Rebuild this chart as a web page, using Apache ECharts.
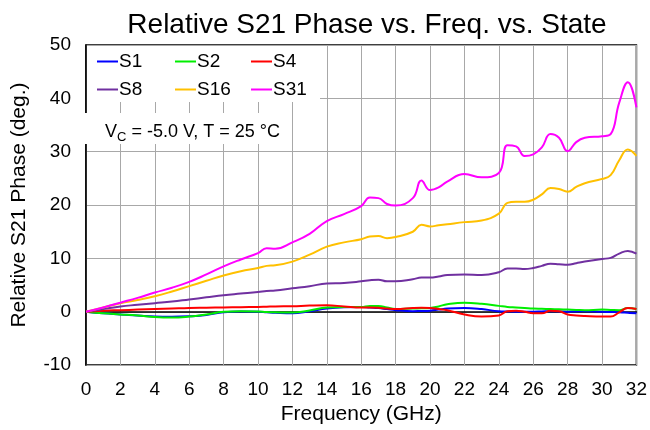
<!DOCTYPE html>
<html>
<head>
<meta charset="utf-8">
<script src="https://cdn.jsdelivr.net/npm/echarts@6/dist/echarts.min.js"></script>
<style>
  html, body { margin: 0; padding: 0; background: #fff; }
  #chart { width: 650px; height: 430px; }
</style>
</head>
<body>
<div id="chart"></div>
<script>
// frequency points (GHz)
const freq = [0, 1, 2, 3, 4, 5, 6, 7, 8, 9, 10, 10.5, 11, 12, 13, 14, 15, 16, 16.5, 17, 17.5, 18, 19, 19.5, 20, 20.5, 21, 22, 23, 24, 24.5, 25, 25.5, 26, 26.5, 27, 27.5, 28, 28.5, 29, 30, 30.5, 31, 31.5, 32];

// relative phase per state (deg.)
const s1 = [0, -0.3, -0.5, -0.7, -0.9, -0.95, -0.85, -0.6, -0.1, 0.05, 0, -0.1, -0.2, -0.3, 0.1, 0.6, 0.85, 0.9, 0.8, 0.7, 0.5, 0.3, 0.1, 0.15, 0.2, 0.4, 0.6, 0.7, 0.5, 0.1, 0.05, 0, 0, 0, 0.05, 0.1, 0.05, 0, 0.05, 0.1, 0, -0.05, -0.1, -0.2, -0.3];
const s2 = [0, -0.3, -0.5, -0.7, -1.0, -1.1, -0.9, -0.5, 0, 0.1, 0.05, -0.05, -0.1, -0.15, 0.25, 0.8, 0.9, 0.9, 1.1, 1.1, 0.8, 0.5, 0.6, 0.65, 0.7, 1.0, 1.4, 1.7, 1.5, 1.1, 0.9, 0.8, 0.7, 0.6, 0.55, 0.5, 0.45, 0.4, 0.35, 0.3, 0.4, 0.35, 0.3, 0.7, 0.5];
const s4 = [0, 0.2, 0.3, 0.4, 0.5, 0.6, 0.7, 0.75, 0.8, 0.85, 0.9, 0.95, 1.0, 1.05, 1.15, 1.2, 1.0, 0.8, 0.8, 0.75, 0.6, 0.5, 0.7, 0.75, 0.7, 0.5, 0.3, -0.5, -0.9, -0.7, 0.1, 0.2, 0, -0.3, -0.3, 0.2, 0.1, -0.5, -0.7, -0.8, -0.9, -0.9, -0.1, 0.7, 0.5];
const s8 = [0, 0.5, 1.0, 1.3, 1.6, 1.9, 2.3, 2.7, 3.1, 3.4, 3.7, 3.9, 4.0, 4.4, 4.8, 5.3, 5.4, 5.7, 5.9, 6.0, 5.7, 5.7, 6.1, 6.4, 6.4, 6.6, 6.9, 7.0, 6.9, 7.4, 8.1, 8.1, 8.0, 8.2, 8.6, 9.0, 8.9, 8.8, 9.1, 9.4, 9.9, 10.1, 10.9, 11.4, 10.9];
const s16 = [0, 0.8, 1.6, 2.2, 2.9, 3.8, 4.8, 5.8, 6.8, 7.6, 8.2, 8.6, 8.7, 9.4, 10.7, 12.2, 13.0, 13.6, 14.1, 14.2, 13.8, 14.0, 15.0, 16.3, 16.0, 16.2, 16.4, 16.8, 17.1, 18.4, 20.4, 20.6, 20.6, 21.0, 22.0, 23.2, 23.0, 22.5, 23.4, 24.1, 24.9, 25.6, 28.4, 30.4, 29.2];
const s31 = [0, 0.8, 1.7, 2.6, 3.6, 4.5, 5.6, 7.0, 8.5, 9.8, 11.0, 11.9, 11.8, 13.0, 14.6, 17.0, 18.3, 19.8, 21.4, 21.3, 20.2, 19.9, 21.3, 24.6, 22.8, 23.3, 24.4, 25.8, 25.2, 26.0, 31.2, 31.0, 29.2, 29.5, 30.8, 33.3, 32.6, 30.1, 31.8, 32.6, 32.9, 33.3, 39.2, 43.0, 38.3];

const names = ["S1", "S2", "S4", "S8", "S16", "S31"];
const values = [s1, s2, s4, s8, s16, s31];
const colors = ["#0000ff", "#00ee00", "#ff0000", "#7030a0", "#ffc000", "#ff00ff"];

const font = "'Liberation Sans', Arial, sans-serif";

const chart = echarts.init(document.getElementById("chart"));

// one legend per item so the columns line up
const legendCols = [92, 170, 246];
const legendRows = [47, 75];
const legends = names.map((n, i) => ({
  data: [n],
  left: legendCols[i % 3],
  top: legendRows[Math.floor(i / 3)],
  icon: "rect",
  itemWidth: 21,
  itemHeight: 2,
  itemGap: 0,
  z: 10,
  selectedMode: false,
  textStyle: { fontFamily: font, fontSize: 19, color: "#000", padding: [0, 0, 0, -4] },
}));

const options = {
  animation: false,
  title: {
    text: "Relative S21 Phase vs. Freq. vs. State",
    left: 362,
    textAlign: "center",
    top: 6,
    textStyle: { fontFamily: font, fontSize: 28, fontWeight: "normal", color: "#000" },
  },
  legend: legends,
  grid: {
    left: 86,
    right: 12,
    top: 45,
    bottom: 58,
    show: true,
    borderColor: "#000",
    borderWidth: 1.5,
  },
  xAxis: {
    type: "value",
    min: 0,
    max: 32,
    interval: 2,
    name: "Frequency (GHz)",
    nameLocation: "middle",
    nameGap: 37,
    nameTextStyle: { fontFamily: font, fontSize: 21, color: "#000" },
    axisLine: { lineStyle: { color: "#000", width: 1.5 } },
    axisTick: { show: false },
    axisLabel: { fontFamily: font, fontSize: 19, color: "#000", margin: 15 },
    splitLine: { lineStyle: { color: "#a8a8a8", width: 1 } },
  },
  yAxis: {
    type: "value",
    min: -10,
    max: 50,
    interval: 10,
    name: "Relative S21 Phase (deg.)",
    nameLocation: "middle",
    nameGap: 56,
    nameTextStyle: { fontFamily: font, fontSize: 21, color: "#000" },
    axisLine: { show: true, lineStyle: { color: "#000", width: 1.5 } },
    axisTick: { show: false },
    axisLabel: { fontFamily: font, fontSize: 19, color: "#000", margin: 15 },
    splitLine: { lineStyle: { color: "#a8a8a8", width: 1 } },
  },
  graphic: [
    // white box behind legend
    { type: "rect", shape: { x: 87, y: 46, width: 233, height: 56 }, style: { fill: "#fff" }, z: 3, silent: true },
    // condition label box
    { type: "rect", shape: { x: 80, y: 113, width: 206, height: 31 }, style: { fill: "#fff" }, z: 3, silent: true },
    {
      type: "text",
      x: 105,
      y: 132,
      z: 4,
      silent: true,
      style: {
        text: "{v|V}{s|C}{t| = -5.0 V, T = 25 °C}",
        verticalAlign: "middle",
        fill: "#000",
        rich: {
          v: { fontFamily: font, fontSize: 18, lineHeight: 24 },
          s: { fontFamily: font, fontSize: 13, lineHeight: 24, verticalAlign: "bottom" },
          t: { fontFamily: font, fontSize: 18, lineHeight: 24 },
        },
      },
    },
  ],
  series: names.map((n, i) => ({
    name: n,
    type: "line",
    data: freq.map((f, k) => [f, values[i][k]]),
    smooth: 0.45,
    symbol: "none",
    color: colors[i],
    lineStyle: { width: 2, color: colors[i] },
    z: 2,
  })),
};

chart.setOption(options);
</script>
</body>
</html>
